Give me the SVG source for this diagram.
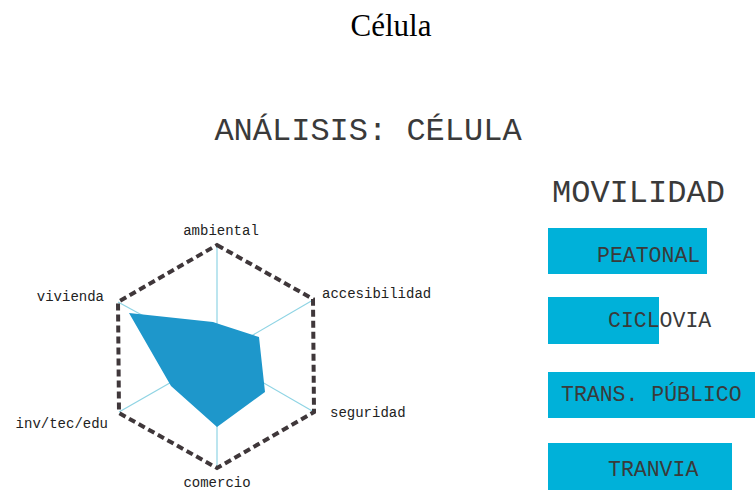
<svg xmlns="http://www.w3.org/2000/svg" width="755" height="492" viewBox="0 0 755 492">
  <style>
    .title { font-family: "Liberation Serif", "Times New Roman", serif; font-size: 31px; fill: #000; }
    .head { font-family: "Liberation Mono", "Courier New", monospace; font-size: 32px; fill: #3a3a3a; }
    .axis { font-family: "Liberation Mono", "Courier New", monospace; font-size: 14px; fill: #222; }
    .bar { fill: #00b1d9; }
    .barText { font-family: "Liberation Mono", "Courier New", monospace; font-size: 21.5px; fill: #3a3a3a; }
    .spoke { stroke: #8fd4e4; stroke-width: 1.2; fill: none; }
    .frame { stroke: #3f373a; stroke-width: 4; stroke-dasharray: 7 4; fill: none; stroke-linejoin: miter; }
    .data { fill: #1e97cb; }
  </style>

  <text class="title" x="391" y="36" text-anchor="middle">Célula</text>
  <text class="head" x="368" y="140" text-anchor="middle">ANÁLISIS: CÉLULA</text>

  <!-- radar chart -->
  <g id="radar">
    <g id="spokes">
      <line class="spoke" x1="217" y1="356" x2="217" y2="245"/>
      <line class="spoke" x1="217" y1="356" x2="313" y2="300"/>
      <line class="spoke" x1="217" y1="356" x2="314" y2="412"/>
      <line class="spoke" x1="217" y1="356" x2="217" y2="468"/>
      <line class="spoke" x1="217" y1="356" x2="119" y2="412"/>
      <line class="spoke" x1="217" y1="356" x2="118" y2="302"/>
    </g>
    <polygon class="data" points="129,313 213,322 222,325 259,337 265,392 217,427 171,386"/>
    <polygon class="frame" points="217,245 313,299 314,412 217,468 119,413 118,302"/>
  </g>

  <g id="axis-labels">
    <text class="axis" x="221" y="235" text-anchor="middle">ambiental</text>
    <text class="axis" x="322" y="298">accesibilidad</text>
    <text class="axis" x="330" y="417">seguridad</text>
    <text class="axis" x="217" y="487" text-anchor="middle">comercio</text>
    <text class="axis" x="108" y="428" text-anchor="end">inv/tec/edu</text>
    <text class="axis" x="104" y="301" text-anchor="end">vivienda</text>
  </g>

  <!-- mobility bars -->
  <text class="head" x="552" y="202">MOVILIDAD</text>
  <g id="peatonal">
    <rect class="bar" x="548" y="228" width="159" height="46"/>
    <text class="barText" x="597" y="262">PEATONAL</text>
  </g>
  <g id="ciclovia">
    <rect class="bar" x="548" y="297" width="111" height="47"/>
    <text class="barText" x="608" y="327">CICLOVIA</text>
  </g>
  <g id="trans-publico">
    <rect class="bar" x="548" y="372" width="207" height="46"/>
    <text class="barText" x="561" y="401">TRANS. PÚBLICO</text>
  </g>
  <g id="tranvia">
    <rect class="bar" x="548" y="443" width="184" height="47"/>
    <text class="barText" x="608" y="476">TRANVIA</text>
  </g>
</svg>
